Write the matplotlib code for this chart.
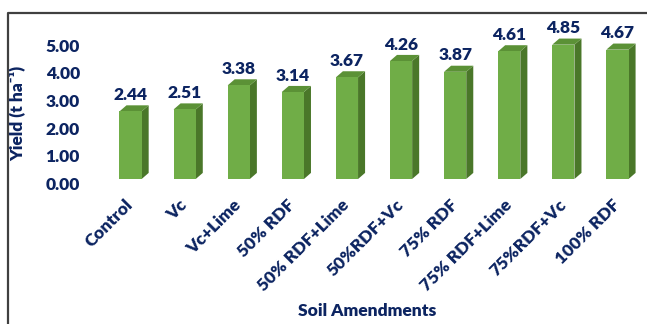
import matplotlib.pyplot as plt
import matplotlib.transforms as mtransforms
from matplotlib.patches import Polygon
from matplotlib.lines import Line2D

treatments = ["Control", "Vc", "Vc+Lime", "50% RDF", "50% RDF+Lime",
              "50%RDF+Vc", "75% RDF", "75% RDF+Lime", "75%RDF+Vc", "100% RDF"]
yields = [2.44, 2.51, 3.38, 3.14, 3.67, 4.26, 3.87, 4.61, 4.85, 4.67]
yticks = [0, 1, 2, 3, 4, 5]

navy = "#0C2461"
front = "#70AD47"
side = "#4A7729"
top = "#5B9136"

plt.rcParams['font.family'] = ['Lato', 'DejaVu Sans']
wt = 'heavy'

fig = plt.figure(figsize=(6.47, 3.24), dpi=100)
ax = fig.add_axes([103.5 / 647, 145 / 324, 541 / 647, 146.8 / 324])

w = 0.41    # front face width
dx = 0.13   # depth, x
dy = 0.22   # depth, y

xs = list(range(len(treatments)))
ax.bar(xs, yields, width=w, color=front, zorder=3, linewidth=0)
for x, h in zip(xs, yields):
    r = x + w / 2
    l = x - w / 2
    ax.add_patch(Polygon([(r, 0), (r + dx, dy), (r + dx, h + dy), (r, h)],
                         closed=True, facecolor=side, edgecolor='none', zorder=2))
    ax.add_patch(Polygon([(l, h), (r, h), (r + dx, h + dy), (l + dx, h + dy)],
                         closed=True, facecolor=top, edgecolor='none', zorder=2))
    ax.annotate(f"{h:.2f}", (x, h), xytext=(0, 6), textcoords='offset points',
                ha='center', va='bottom', fontsize=12.5, fontweight=wt, color=navy)

ax.set_xlim(-0.5, len(treatments) - 0.5)
ax.set_ylim(0, 5.3)
ax.set_yticks(yticks)
ax.set_yticklabels([f"{v:.2f}" for v in yticks], fontweight=wt)
ax.set_xticks(xs)
ax.set_xticklabels(treatments, rotation=45, ha='right', va='center',
                   rotation_mode='anchor', fontweight=wt)
ax.tick_params(axis='both', length=0, labelsize=12.5, labelcolor=navy)
ax.tick_params(axis='y', pad=17)
ax.tick_params(axis='x', pad=17)
for s in ax.spines.values():
    s.set_visible(False)

# y labels sit a little lower than the bar floor, like the original
shift = mtransforms.ScaledTranslation(0, -4.5 / 100, fig.dpi_scale_trans)
for lab in ax.get_yticklabels():
    lab.set_transform(lab.get_transform() + shift)

ax.set_ylabel("Yield (t ha⁻¹)", fontsize=12.5, fontweight=wt, color=navy)
ax.yaxis.set_label_coords(-0.145, 0.45)
ax.set_xlabel("Soil Amendments", fontsize=12.5, fontweight=wt, color=navy, va='center')
ax.xaxis.set_label_coords(0.487, -0.90)

fig.add_artist(Line2D([8 / 647, 8 / 647, 1], [0, 1 - 13 / 324, 1 - 13 / 324],
                      transform=fig.transFigure, color="#404040", lw=1.6))

fig.savefig("out.png", dpi=100)
